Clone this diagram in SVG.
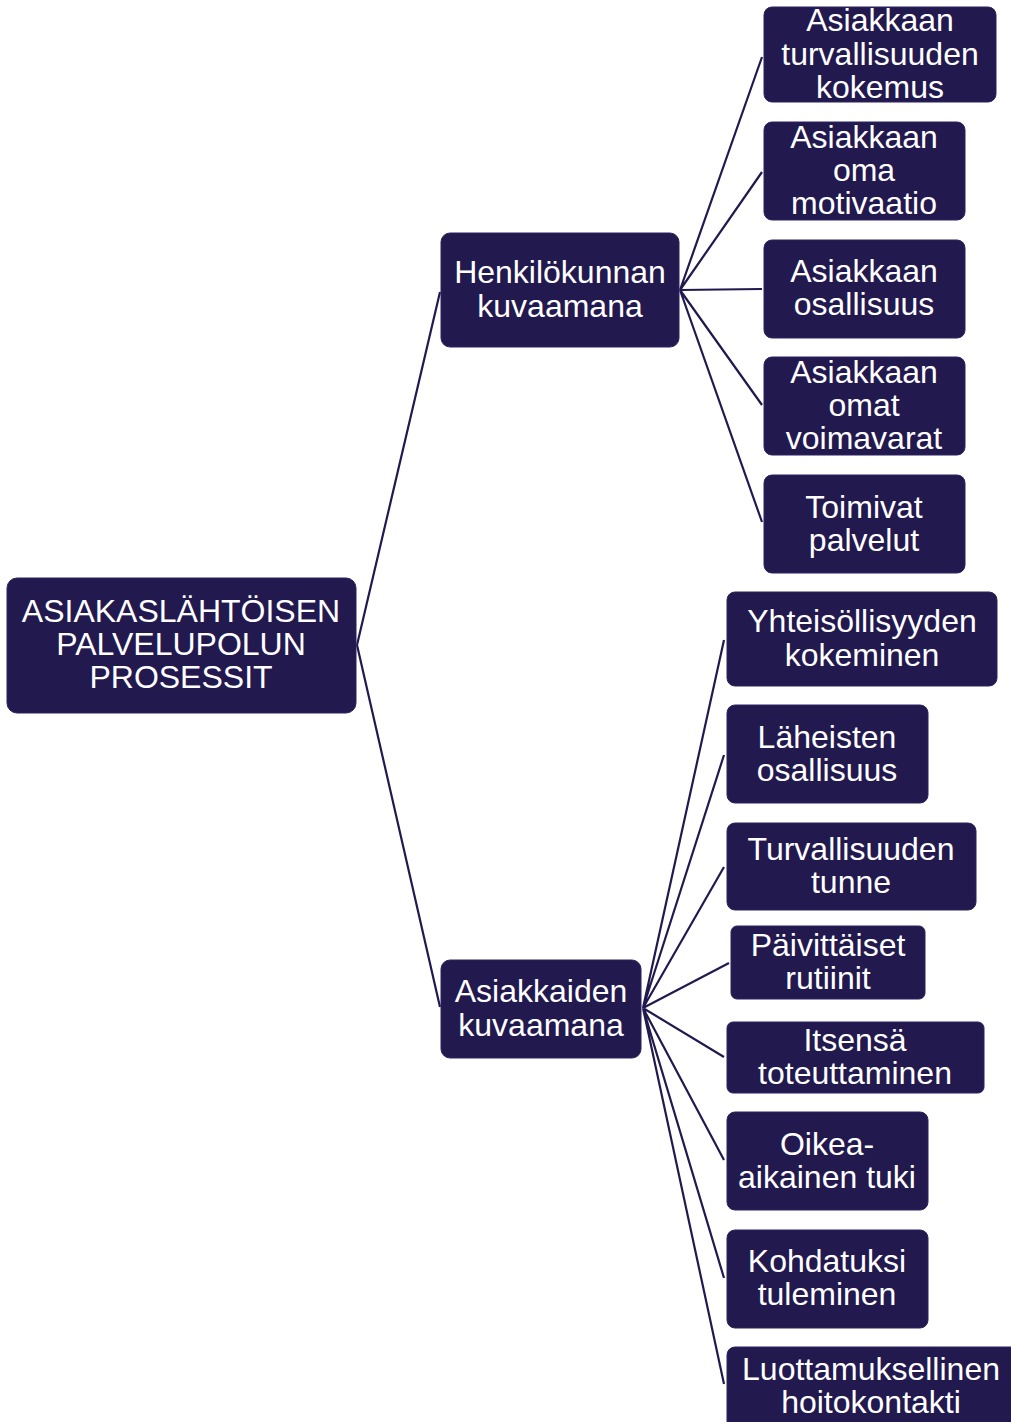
<svg xmlns="http://www.w3.org/2000/svg" width="1011" height="1422" viewBox="0 0 1011 1422">
<style>
.n{fill:#22194f;stroke:#2c2360;stroke-width:1}
.t{font-family:"Liberation Sans",Arial,sans-serif;font-size:32px;fill:#ffffff;text-anchor:middle}
.c{stroke:#22194f;stroke-width:2.2;fill:none}
</style>
<rect width="1011" height="1422" fill="#ffffff"/>
<g id="connectors">
<path class="c" d="M357 645L440 292M357 645L440 1007"/>
<path class="c" d="M680 290L762 57M680 290L762 172M680 290L762 289M680 290L762 405M680 290L762 522"/>
<path class="c" d="M643 1008L724 640M643 1008L724 755M643 1008L724 867M643 1008L729 963M643 1008L724 1057M643 1008L724 1160M643 1008L724 1278M643 1008L724 1384"/>
</g>
<g id="root"><rect class="n" x="7" y="578" width="349" height="135" rx="10"/>
<text class="t" x="181"><tspan x="181" y="622">ASIAKASLÄHTÖISEN</tspan><tspan x="181" y="655">PALVELUPOLUN</tspan><tspan x="181" y="688">PROSESSIT</tspan></text></g>
<g id="henkilokunnan"><rect class="n" x="441" y="233" width="238" height="114" rx="9"/>
<text class="t"><tspan x="560" y="283">Henkilökunnan</tspan><tspan x="560" y="317">kuvaamana</tspan></text></g>
<g id="asiakkaiden"><rect class="n" x="441" y="960" width="200" height="98" rx="9"/>
<text class="t"><tspan x="541" y="1002">Asiakkaiden</tspan><tspan x="541" y="1036">kuvaamana</tspan></text></g>
<g id="n1"><rect class="n" x="764" y="7" width="232" height="95" rx="8"/>
<text class="t"><tspan x="880" y="31">Asiakkaan</tspan><tspan x="880" y="65">turvallisuuden</tspan><tspan x="880" y="98">kokemus</tspan></text></g>
<g id="n2"><rect class="n" x="764" y="122" width="201" height="98" rx="8"/>
<text class="t"><tspan x="864" y="148">Asiakkaan</tspan><tspan x="864" y="181">oma</tspan><tspan x="864" y="214">motivaatio</tspan></text></g>
<g id="n3"><rect class="n" x="764" y="240" width="201" height="98" rx="8"/>
<text class="t"><tspan x="864" y="282">Asiakkaan</tspan><tspan x="864" y="315">osallisuus</tspan></text></g>
<g id="n4"><rect class="n" x="764" y="357" width="201" height="98" rx="8"/>
<text class="t"><tspan x="864" y="383">Asiakkaan</tspan><tspan x="864" y="416">omat</tspan><tspan x="864" y="449">voimavarat</tspan></text></g>
<g id="n5"><rect class="n" x="764" y="475" width="201" height="98" rx="8"/>
<text class="t"><tspan x="864" y="518">Toimivat</tspan><tspan x="864" y="551">palvelut</tspan></text></g>
<g id="n6"><rect class="n" x="727" y="592" width="270" height="94" rx="8"/>
<text class="t"><tspan x="862" y="632">Yhteisöllisyyden</tspan><tspan x="862" y="666">kokeminen</tspan></text></g>
<g id="n7"><rect class="n" x="727" y="705" width="201" height="98" rx="8"/>
<text class="t"><tspan x="827" y="748">Läheisten</tspan><tspan x="827" y="781">osallisuus</tspan></text></g>
<g id="n8"><rect class="n" x="727" y="823" width="249" height="87" rx="8"/>
<text class="t"><tspan x="851" y="860">Turvallisuuden</tspan><tspan x="851" y="893">tunne</tspan></text></g>
<g id="n9"><rect class="n" x="731" y="926" width="194" height="73" rx="6"/>
<text class="t"><tspan x="828" y="956">Päivittäiset</tspan><tspan x="828" y="989">rutiinit</tspan></text></g>
<g id="n10"><rect class="n" x="727" y="1022" width="257" height="71" rx="6"/>
<text class="t"><tspan x="855" y="1051">Itsensä</tspan><tspan x="855" y="1084">toteuttaminen</tspan></text></g>
<g id="n11"><rect class="n" x="727" y="1112" width="201" height="98" rx="8"/>
<text class="t"><tspan x="827" y="1155">Oikea-</tspan><tspan x="827" y="1188">aikainen tuki</tspan></text></g>
<g id="n12"><rect class="n" x="727" y="1230" width="201" height="98" rx="8"/>
<text class="t"><tspan x="827" y="1272">Kohdatuksi</tspan><tspan x="827" y="1305">tuleminen</tspan></text></g>
<g id="n13"><rect class="n" x="727" y="1347" width="300" height="90" rx="8"/>
<text class="t"><tspan x="871" y="1380">Luottamuksellinen</tspan><tspan x="871" y="1413">hoitokontakti</tspan></text></g>
</svg>
